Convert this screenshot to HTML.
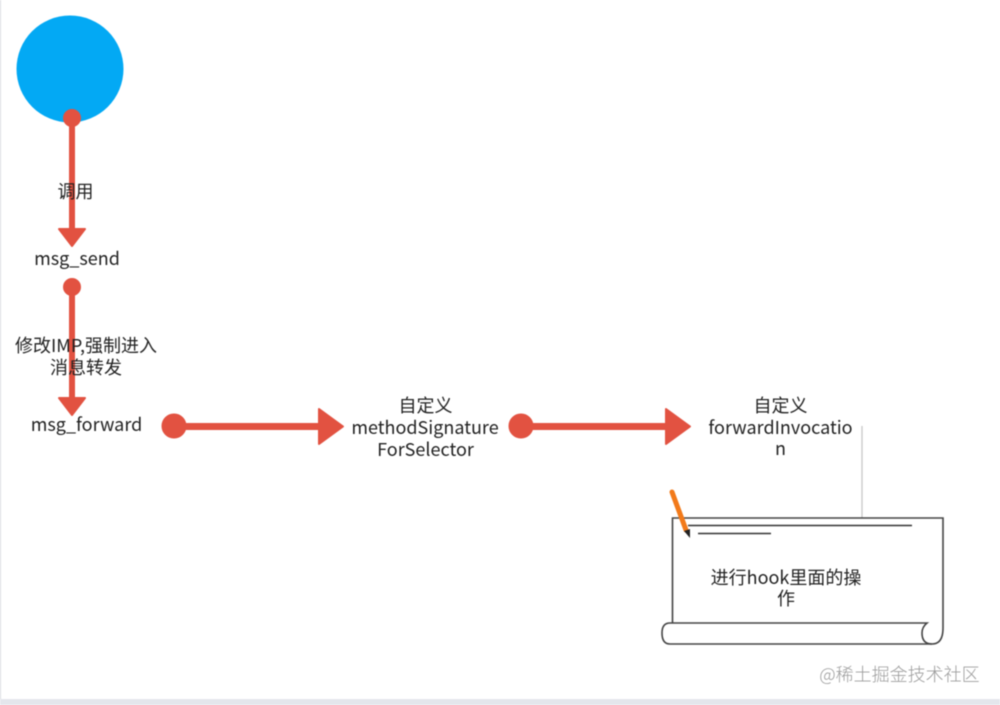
<!DOCTYPE html>
<html><head><meta charset="utf-8">
<style>
html,body{margin:0;padding:0;background:#fff;width:1000px;height:705px;overflow:hidden}
svg{display:block;filter:blur(.4px)}
text{font-family:"Noto Sans CJK SC","Liberation Sans",sans-serif;font-size:18px;fill:#222;text-anchor:middle}
</style></head><body>
<svg width="1000" height="705" viewBox="0 0 1000 705" xmlns="http://www.w3.org/2000/svg">
<rect x="0" y="0" width="1" height="699" fill="#d9dbe0"/>
<rect x="0" y="699" width="1000" height="6" fill="#e4e6ec"/>
<circle cx="70" cy="69" r="53.500" fill="#03a9f4"/>
<g fill="#e25241" stroke="#e25241" stroke-width="2" stroke-linejoin="round">
<circle cx="72" cy="118" r="8"/>
<rect x="70" y="118" width="4" height="112"/>
<polygon points="59,229 85,229 72,246"/>
<circle cx="72" cy="287" r="8"/>
<rect x="70" y="287" width="4" height="112"/>
<polygon points="59,398 85,398 72,415"/>
<circle cx="174" cy="426" r="11.500"/>
<rect x="174" y="424" width="146" height="5"/>
<polygon points="319,409 319,444 343,426.500"/>
<circle cx="521" cy="426" r="11.500"/>
<rect x="521" y="424" width="146" height="5"/>
<polygon points="666,409 666,444 690,426.500"/>
</g>
<text x="75.500" y="198">调用</text>
<text x="77" y="265">msg_send</text>
<text x="86" y="352">修改IMP,强制进入</text>
<text x="86" y="374">消息转发</text>
<text x="86.500" y="431">msg_forward</text>
<text x="425.500" y="412">自定义</text>
<text x="425" y="434">methodSignature</text>
<text x="425.500" y="456">ForSelector</text>
<text x="780.500" y="412">自定义</text>
<text x="780.500" y="434">forwardInvocatio</text>
<text x="780.500" y="455">n</text>
<line x1="862" y1="426" x2="862" y2="518" stroke="#c4c4c4" stroke-width="1.2"/>
<g fill="none" stroke="#444" stroke-width="1.6">
<path d="M672.500 623 V518 H943 V628 Q943 644 932 644 Q922 644 922 633 Q922 627 927 623 H672.500"/>
<path d="M672.500 623 H670 Q662 623 662 633 Q662 644 670 644 H932"/>
</g>
<line x1="688" y1="525.500" x2="912" y2="525.500" stroke="#333" stroke-width="1.500"/>
<line x1="698" y1="533.500" x2="771" y2="533.500" stroke="#333" stroke-width="1.500"/>
<line x1="672" y1="492" x2="686" y2="530" stroke="#f27a1a" stroke-width="5" stroke-linecap="round"/>
<polygon points="684,531 690,529 690,538" fill="#222"/>
<text x="786" y="584">进行hook里面的操</text>
<text x="786" y="605">作</text>
<text x="899.500" y="681" style="fill:#9c9c9c;font-weight:300">@稀土掘金技术社区</text>
</svg>
</body></html>
